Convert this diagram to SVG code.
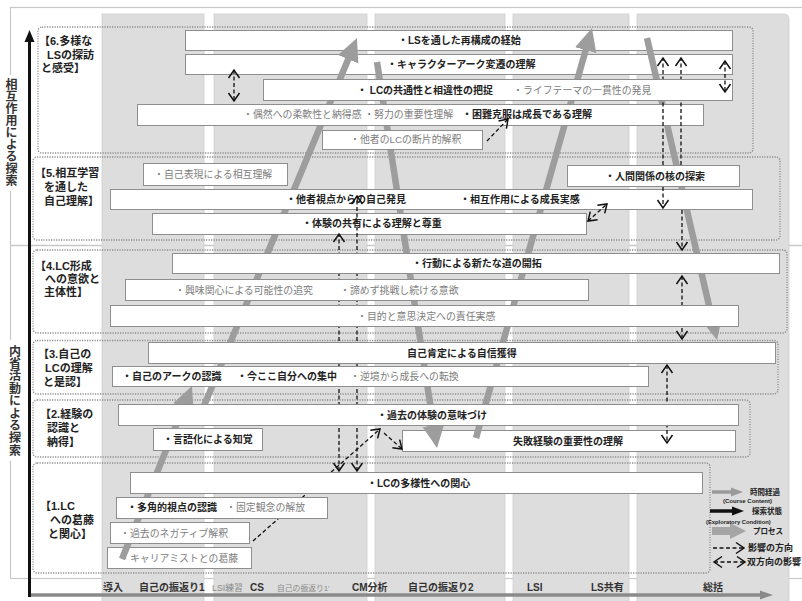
<svg xmlns="http://www.w3.org/2000/svg" width="802" height="601" viewBox="0 0 802 601">
<defs>
<style>
text{font-family:"Liberation Sans","Noto Sans CJK JP",sans-serif}
.b{font-size:10px;font-weight:bold;fill:#222}
.g{font-size:9.9px;fill:#7d7d7d}
.lab{font-size:11px;font-weight:bold;fill:#222}
.ax{font-size:10px;font-weight:bold;fill:#333}
.axg{fill:#888}
.vt{font-size:12px;font-weight:bold;fill:#333;writing-mode:vertical-rl;text-orientation:upright;letter-spacing:0.1px}
.box{fill:#fff;stroke:#8e8e8e;stroke-width:1}
.sec{fill:none;stroke:#8c8c8c;stroke-width:1.4;stroke-dasharray:1.2 1.3}
.band{fill:#dddddd;stroke:#cfcfcf;stroke-width:0.8}
.proc{fill:none;stroke:#9d9d9d;stroke-width:6.5;marker-end:url(#pa)}
.inf{fill:none;stroke:#111;stroke-width:1.3;stroke-dasharray:4 2.5}
.e{marker-end:url(#ch)}
.s{marker-start:url(#ch)}
.lg{font-weight:bold;fill:#222}
</style>
<marker id="pa" markerUnits="userSpaceOnUse" markerWidth="26" markerHeight="24" refX="15" refY="11" orient="auto">
<path d="M0,0 L23,11 L0,22 Z" fill="#9d9d9d"/>
</marker>
<marker id="ch" markerUnits="userSpaceOnUse" markerWidth="12" markerHeight="14" refX="9" refY="7" orient="auto-start-reverse">
<path d="M1,1.5 L9,7 L1,12.5" fill="none" stroke="#111" stroke-width="1.5"/>
</marker>
</defs>

<rect width="802" height="601" fill="#fff"/>
<g id="background">
<rect x="10.5" y="7.5" width="800" height="571" fill="none" stroke="#c8c8c8" stroke-width="1.2"/>
<line x1="10" y1="245.5" x2="802" y2="245.5" stroke="#c8c8c8" stroke-width="1.5"/>
<rect class="band" x="102" y="14" width="102" height="590"/>
<rect class="band" x="214" y="14" width="153" height="590"/>
<rect class="band" x="375" y="14" width="130" height="590"/>
<rect class="band" x="513" y="14" width="116" height="590"/>
<path class="band" d="M637,14 H784 Q789,14 789,19 V604 H637 Z"/>
</g>

<g id="axes">
<rect x="2" y="75" width="17" height="116" fill="#fff"/>
<rect x="4" y="340" width="18" height="121" fill="#fff"/>
<text class="vt" x="10" y="78">相互作用による探索</text>
<text class="vt" x="13.5" y="345" style="letter-spacing:0.4px">内省活動による探索</text>
<line x1="28" y1="595" x2="762" y2="595" stroke="#8a8a8a" stroke-width="3.5"/>
<polygon points="760,590.5 773,595 760,599.5" fill="#8a8a8a"/>
<line x1="29.5" y1="597" x2="29.5" y2="40" stroke="#111" stroke-width="3"/>
<polygon points="24.5,42 29.5,30 34.5,42" fill="#111"/>
<text class="ax" x="103" y="591">導入</text>
<text class="ax" x="139" y="591">自己の振返り1</text>
<text class="ax axg" x="212" y="591" style="font-size:8.8px;font-weight:normal">LSI練習</text>
<text class="ax" x="250" y="591">CS</text>
<text class="ax axg" x="277" y="591" style="font-size:7.8px;font-weight:normal">自己の振返り1'</text>
<text class="ax" x="352" y="591">CM分析</text>
<text class="ax" x="408" y="591">自己の振返り2</text>
<text class="ax" x="527" y="591">LSI</text>
<text class="ax" x="591" y="591">LS共有</text>
<text class="ax" x="703" y="591">総括</text>
</g>

<g id="sections">
<rect class="sec" x="38" y="27" width="715" height="126" rx="4"/>
<rect class="sec" x="33" y="157" width="747" height="83" rx="4"/>
<rect class="sec" x="33" y="250" width="754" height="83" rx="4"/>
<rect class="sec" x="33" y="340.5" width="745" height="53.5" rx="4"/>
<rect class="sec" x="33" y="400" width="717" height="57" rx="4"/>
<rect class="sec" x="33" y="463" width="677" height="110" rx="4"/>
<text class="lab" x="39" y="45">【6.多様な</text>
<text class="lab" x="47" y="59">LSの探訪</text>
<text class="lab" x="41" y="72">と感受】</text>
<text class="lab" x="35" y="177">【5.相互学習</text>
<text class="lab" x="44" y="191">を通した</text>
<text class="lab" x="44" y="205">自己理解】</text>
<text class="lab" x="35" y="270">【4.LC形成</text>
<text class="lab" x="45" y="283">への意欲と</text>
<text class="lab" x="44" y="296">主体性】</text>
<text class="lab" x="38" y="358">【3.自己の</text>
<text class="lab" x="45" y="372">LCの理解</text>
<text class="lab" x="43" y="386">と是認】</text>
<text class="lab" x="40" y="418">【2.経験の</text>
<text class="lab" x="47" y="432">認識と</text>
<text class="lab" x="47" y="446">納得】</text>
<text class="lab" x="40" y="510">【1.LC</text>
<text class="lab" x="50" y="524">への葛藤</text>
<text class="lab" x="48" y="538">と関心】</text>
</g>

<g id="n1"><rect class="box" x="185.5" y="30.5" width="547" height="20"/><text class="b" x="398" y="44">・LSを通した再構成の経始</text></g>
<g id="n2"><rect class="box" x="185.5" y="54.5" width="547" height="20"/><text class="b" x="387" y="68">・キャラクターアーク変遷の理解</text></g>
<g id="n17"><rect class="box" x="402.5" y="430.5" width="333" height="21"/><text class="b" x="513" y="445">失敗経験の重要性の理解</text></g>
<g id="n21"><rect class="box" x="107.5" y="547.5" width="144" height="21"/><text class="g" x="120" y="562">・キャリアミストとの葛藤</text></g>

<g id="process-arrows">
<path class="proc" d="M122,559 L189,393.4"/>
<path class="proc" d="M199,418 L353.9,45.4"/>
<path class="proc" d="M377,62 L435.8,440.1"/>
<path class="proc" d="M476,438 L589.8,35.7"/>
<path class="proc" d="M647,38 L715.2,332.2"/>
</g>

<g id="n4"><rect class="box" x="137.5" y="104.5" width="566" height="21"/><text class="g" x="243" y="118">・偶然への柔軟性と納得感 ・努力の重要性理解</text><text class="b" x="462" y="118">・困難克服は成長である理解</text></g>
<g id="n5"><rect class="box" x="322.5" y="130.5" width="160" height="19"/><text class="g" x="350" y="143">・他者のLCの断片的解釈</text></g>
<g id="n6"><rect class="box" x="143.5" y="163.5" width="144" height="22"/><text class="g" x="154" y="178">・自己表現による相互理解</text></g>
<g id="n7"><rect class="box" x="110.5" y="189.5" width="642" height="20"/><text class="b" x="286" y="203">・他者視点からの自己発見</text><text class="b" x="460" y="203">・相互作用による成長実感</text></g>
<g id="n9"><rect class="box" x="152.5" y="213.5" width="434" height="21"/><text class="b" x="302" y="227">・体験の共有による理解と尊重</text></g>
<g id="n16"><rect class="box" x="153.5" y="428.5" width="109" height="22"/><text class="b" x="163" y="443">・言語化による知覚</text></g>
<g id="n20"><rect class="box" x="110.5" y="522.5" width="139" height="21"/><text class="g" x="120" y="537">・過去のネガティブ解釈</text></g>

<g id="influence-arrows">
<path class="inf e s" d="M234,70 V101"/>
<path class="inf e" d="M487,141 L508,119"/>
<path class="inf e" d="M663,165 V58"/>
<path class="inf e" d="M663,187 V208"/>
<path class="inf e" d="M681,165 V58"/>
<path class="inf e" d="M682,210 V250"/>
<path class="inf e s" d="M588,221 L607,204"/>
<path class="inf e s" d="M357,471 V196"/>
<path class="inf e s" d="M339,471 V234"/>
<path class="inf e s" d="M682,276 V339"/>
<path class="inf e s" d="M667,365 V443"/>
<path class="inf e" d="M253,541 L380,429"/>
<path class="inf e" d="M384,433 L402,449"/>
</g>

<g id="n3"><rect class="box" x="263.5" y="79.5" width="469" height="21"/><text class="b" x="357" y="94">・ LCの共通性と相違性の把捉</text><text class="g" x="513" y="94">・ライフテーマの一貫性の発見</text></g>
<g id="n8"><rect class="box" x="567.5" y="165.5" width="172" height="21"/><text class="b" x="605" y="180">・人間関係の核の探索</text></g>
<g id="n10"><rect class="box" x="172.5" y="253.5" width="607" height="20"/><text class="b" x="412" y="267">・行動による新たな道の開拓</text></g>
<g id="n11"><rect class="box" x="125.5" y="279.5" width="463" height="21"/><text class="g" x="175" y="294">・興味関心による可能性の追究</text><text class="g" x="340" y="294">・諦めず挑戦し続ける意欲</text></g>
<g id="n12"><rect class="box" x="110.5" y="305.5" width="628" height="21"/><text class="g" x="357" y="320">・目的と意思決定への責任実感</text></g>
<g id="n13"><rect class="box" x="148.5" y="342.5" width="627" height="21"/><text class="b" x="407" y="357">自己肯定による自信獲得</text></g>
<g id="n14"><rect class="box" x="112.5" y="366.5" width="536" height="20"/><text class="b" x="122" y="380">・自己のアークの認識</text><text class="b" x="237" y="380">・今ここ自分への集中</text><text class="g" x="350" y="380">・逆境から成長への転換</text></g>
<g id="n15"><rect class="box" x="118.5" y="404.5" width="620" height="21"/><text class="b" x="377" y="419">・過去の体験の意味づけ</text></g>
<g id="n18"><rect class="box" x="130.5" y="472.5" width="572" height="21"/><text class="b" x="367" y="487">・LCの多様性への関心</text></g>
<g id="n19"><rect class="box" x="116.5" y="497.5" width="211" height="21"/><text class="b" x="127" y="511">・多角的視点の認識</text><text class="g" x="226" y="511">・固定観念の解放</text></g>

<g id="influence-arrows-top">
<path class="inf e s" d="M725,61 V92"/>
</g>

<g id="legend">
<line x1="712" y1="492" x2="732" y2="492" stroke="#9a9a9a" stroke-width="3.5"/>
<polygon points="731,487.5 743,492 731,496.5" fill="#9a9a9a"/>
<line x1="710" y1="511" x2="733" y2="511" stroke="#111" stroke-width="3.5"/>
<polygon points="732,506.5 744,511 732,515.5" fill="#111"/>
<line x1="712" y1="531" x2="731" y2="531" stroke="#a5a5a5" stroke-width="8"/>
<polygon points="730,523 746,531 730,539" fill="#a5a5a5"/>
<path class="inf e" d="M713,548 H744"/>
<path class="inf e s" d="M714,562 H745"/>
<text class="lg" x="750" y="495" style="font-size:7.5px">時間経過</text>
<text class="lg" x="723" y="503" style="font-size:6px">(Course Content)</text>
<text class="lg" x="752" y="514" style="font-size:7.5px">探索状態</text>
<text class="lg" x="706" y="524" style="font-size:5.8px">(Exploratory Condition)</text>
<text class="lg" x="753" y="534" style="font-size:7.5px">プロセス</text>
<text class="lg" x="748" y="551" style="font-size:9px">影響の方向</text>
<text class="lg" x="747" y="565" style="font-size:9px">双方向の影響</text>
</g>
</svg>
